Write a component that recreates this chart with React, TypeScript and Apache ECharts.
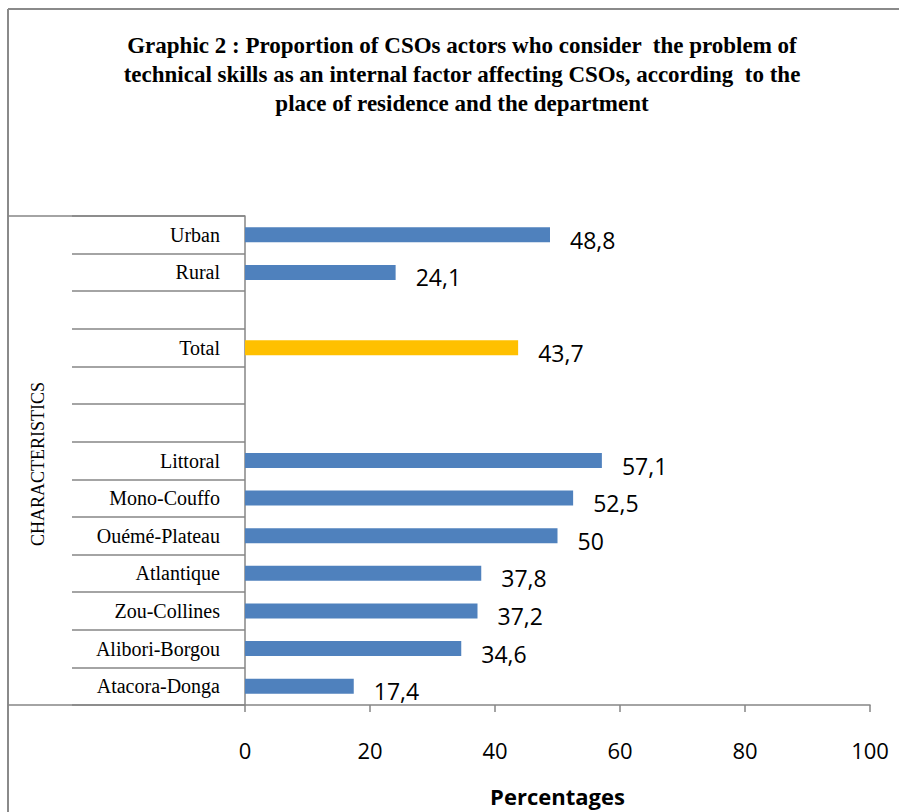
import React, { useEffect, useRef } from "react";
import * as echarts from "echarts";

// Rows listed bottom to top; empty strings are spacer rows between groups.
const categories: string[] = [
  "Atacora-Donga",
  "Alibori-Borgou",
  "Zou-Collines",
  "Atlantique",
  "Ouémé-Plateau",
  "Mono-Couffo",
  "Littoral",
  "",
  "",
  "Total",
  "",
  "Rural",
  "Urban",
];

const percentages: (number | null)[] = [
  17.4, 34.6, 37.2, 37.8, 50, 52.5, 57.1, null, null, 43.7, null, 24.1, 48.8,
];

const xTicks = { min: 0, max: 100, interval: 20 };

const titleLines = [
  "Graphic 2 : Proportion of CSOs actors who consider  the problem of",
  "technical skills as an internal factor affecting CSOs, according  to the",
  "place of residence and the department",
];

const axisTitleY = "CHARACTERISTICS";
const axisTitleX = "Percentages";

const GRID = { left: 245, right: 29, top: 216, bottom: 107 };
const W = 899;
const H = 812;
const AXIS_GREY = "#868686";
const BLUE = "#4F81BD";
const GOLD = "#FFC000";
const SERIF = "'Liberation Serif', 'Times New Roman', serif";
const SANS = "'Open Sans', 'Liberation Sans', sans-serif";

export default function App() {
  const ref = useRef<HTMLDivElement>(null);

  useEffect(() => {
    if (!ref.current) return;
    const chart = echarts.init(ref.current, undefined, { renderer: "svg" });
    const plotBottom = H - GRID.bottom;

    chart.setOption({
      animation: false,
      backgroundColor: "#ffffff",
      grid: { ...GRID, containLabel: false },
      xAxis: {
        type: "value",
        min: xTicks.min,
        max: xTicks.max,
        interval: xTicks.interval,
        axisLine: { show: true, lineStyle: { color: AXIS_GREY, width: 1.5 } },
        axisTick: { show: true, length: 7, lineStyle: { color: AXIS_GREY, width: 1.5 } },
        splitLine: { show: false },
        axisLabel: { margin: 34, fontFamily: SANS, fontSize: 22, color: "#000" },
        name: axisTitleX,
        nameLocation: "middle",
        nameGap: 80,
        nameTextStyle: { fontFamily: SANS, fontSize: 22, fontWeight: "bold", color: "#000" },
      },
      yAxis: {
        type: "category",
        data: categories,
        axisLine: { show: true, lineStyle: { color: AXIS_GREY, width: 1.5 } },
        axisTick: {
          show: true,
          interval: 0,
          length: 173,
          lineStyle: { color: AXIS_GREY, width: 1.5 },
        },
        axisLabel: {
          interval: 0,
          margin: 25,
          fontFamily: SERIF,
          fontSize: 20,
          color: "#000",
        },
      },
      series: [
        {
          type: "bar",
          data: percentages,
          barWidth: 15,
          itemStyle: {
            color: (p: any) => (p.name === "Total" ? GOLD : BLUE),
          },
          label: {
            show: true,
            position: "right",
            distance: 20,
            offset: [0, 5],
            fontFamily: SANS,
            fontSize: 23,
            color: "#000",
            formatter: (p: any) => String(p.value).replace(".", ","),
          },
        },
      ],
      graphic: [
        // outer frame (top and left edges)
        { type: "line", shape: { x1: 8, y1: 9, x2: W, y2: 9 }, style: { stroke: "#8a8a8a", lineWidth: 2 } },
        { type: "line", shape: { x1: 8, y1: 9, x2: 8, y2: H }, style: { stroke: "#8a8a8a", lineWidth: 2 } },
        // category block edges extending to the frame
        { type: "line", shape: { x1: 8, y1: GRID.top, x2: GRID.left, y2: GRID.top }, style: { stroke: AXIS_GREY, lineWidth: 1.5 } },
        { type: "line", shape: { x1: 8, y1: plotBottom, x2: GRID.left, y2: plotBottom }, style: { stroke: AXIS_GREY, lineWidth: 1.5 } },
        {
          type: "text",
          x: 38,
          y: 464,
          rotation: Math.PI / 2,
          style: {
            text: axisTitleY,
            font: `18px ${SERIF}`,
            fill: "#000",
            align: "center",
            verticalAlign: "middle",
          },
        },
        {
          type: "text",
          x: 462,
          y: 31,
          style: {
            text: titleLines.join("\n"),
            font: `bold 23px ${SERIF}`,
            lineHeight: 29,
            fill: "#000",
            align: "center",
            verticalAlign: "top",
          },
        },
      ],
    });

    return () => chart.dispose();
  }, []);

  return (
    <div
      ref={ref}
      style={{ position: "fixed", left: 0, top: 0, width: W, height: H }}
    />
  );
}
